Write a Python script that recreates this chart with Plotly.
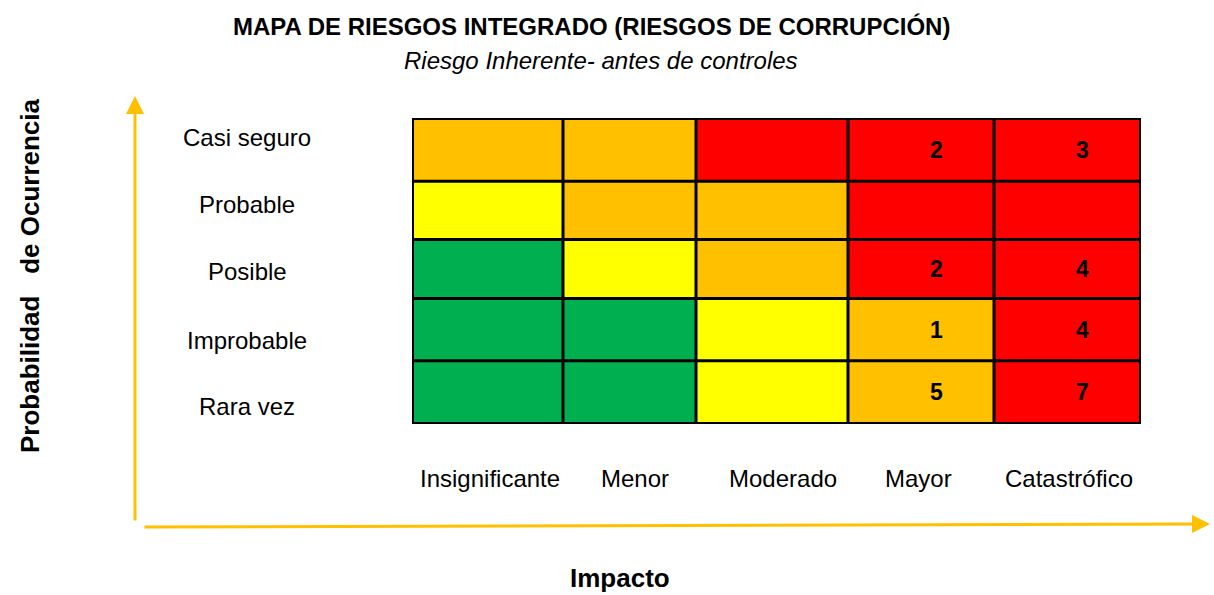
import plotly.graph_objects as go

# ---------------- data ----------------
impact_labels = ["Insignificante", "Menor", "Moderado", "Mayor", "Catastrófico"]
prob_labels = ["Rara vez", "Improbable", "Posible", "Probable", "Casi seguro"]  # bottom -> top

# risk level per cell: 1=bajo(verde) 2=moderado(amarillo) 3=alto(naranja) 4=extremo(rojo)
level_rara_vez    = [1, 1, 2, 3, 4]
level_improbable  = [1, 1, 2, 3, 4]
level_posible     = [1, 2, 3, 4, 4]
level_probable    = [2, 3, 3, 4, 4]
level_casi_seguro = [3, 3, 4, 4, 4]

# number of risks per cell
count_rara_vez    = [None, None, None, 5, 7]
count_improbable  = [None, None, None, 1, 4]
count_posible     = [None, None, None, 2, 4]
count_probable    = [None, None, None, None, None]
count_casi_seguro = [None, None, None, 2, 3]

title_text = "MAPA DE RIESGOS INTEGRADO (RIESGOS DE CORRUPCIÓN)"
subtitle_text = "Riesgo Inherente- antes de controles"
x_title = "Impacto"
y_title = "Probabilidad\u00a0\u00a0\u00a0de Ocurrencia"

# ---------------- layout constants ----------------
W, H = 1214, 595
GX0, GX1, GY0, GY1 = 412, 1141, 118, 424   # grid pixel box
col_widths = [151, 133, 152, 146, 147]
row_heights = [63, 62, 59, 58, 63]          # bottom -> top
col_label_x = [490, 635, 783, 918, 1069]    # pixel centres of the impact labels
row_label_y = [406, 340, 271, 204, 137]     # pixel centres of the probability labels
GREEN, YELLOW, ORANGE, RED = "#00B050", "#FFFF00", "#FFC000", "#FF0000"
ARROW = "#FFC000"
FONT = "Liberation Sans, Arial, sans-serif"

def px(x):
    return (x - GX0) / (GX1 - GX0)

def py(y):
    return (GY1 - y) / (GY1 - GY0)

x_edges = [0]
for w in col_widths:
    x_edges.append(x_edges[-1] + w)
y_edges = [0]
for h in row_heights:
    y_edges.append(y_edges[-1] + h)
x_centers = [(x_edges[i] + x_edges[i + 1]) / 2 for i in range(5)]
y_centers = [(y_edges[i] + y_edges[i + 1]) / 2 for i in range(5)]

z = [level_rara_vez, level_improbable, level_posible, level_probable, level_casi_seguro]
counts = [count_rara_vez, count_improbable, count_posible, count_probable, count_casi_seguro]

colorscale = [[0, GREEN], [0.25, GREEN], [0.25, YELLOW], [0.5, YELLOW],
              [0.5, ORANGE], [0.75, ORANGE], [0.75, RED], [1, RED]]

fig = go.Figure(go.Heatmap(
    z=z, x=x_edges, y=y_edges, zmin=0.5, zmax=4.5,
    colorscale=colorscale, showscale=False, hoverinfo="skip",
))

shapes = []
for i, xe in enumerate(x_edges):
    lw = 4 if i in (0, len(x_edges) - 1) else 3
    shapes.append(dict(type="line", xref="x", yref="y", x0=xe, x1=xe, y0=0, y1=y_edges[-1],
                       line=dict(color="black", width=lw)))
for i, ye in enumerate(y_edges):
    lw = 4 if i in (0, len(y_edges) - 1) else 3
    shapes.append(dict(type="line", xref="x", yref="y", x0=0, x1=x_edges[-1], y0=ye, y1=ye,
                       line=dict(color="black", width=lw)))

def ann(x, y, text, size, xref="paper", yref="paper", **kw):
    d = dict(x=x, y=y, xref=xref, yref=yref, text=text, showarrow=False,
             xanchor="center", yanchor="middle",
             font=dict(size=size, color="black", family=FONT))
    d.update(kw)
    return d

annotations = []
# counts
for r in range(5):
    for c in range(5):
        v = counts[r][c]
        if v is not None:
            annotations.append(ann(x_centers[c], y_centers[r], f"<b>{v}</b>", 23,
                                   xref="x", yref="y", xshift=15))
# column labels
for c, lab in enumerate(impact_labels):
    annotations.append(ann(px(col_label_x[c]), py(478), lab, 24))
# row labels
for r, lab in enumerate(prob_labels):
    annotations.append(ann(px(247), py(row_label_y[r]), lab, 24))
# titles
annotations.append(ann(px(591), py(27), f"<b>{title_text}</b>", 24))
annotations.append(ann(px(601), py(60), f"<i>{subtitle_text}</i>", 24))
annotations.append(ann(px(620), py(578), f"<b>{x_title}</b>", 26))
annotations.append(ann(px(30), py(276), f"<b>{y_title}</b>", 26, textangle=-90))
# axis arrows
annotations.append(dict(x=px(135), y=py(96), xref="paper", yref="paper",
                        ax=0, ay=522 - 96, axref="pixel", ayref="pixel", text="",
                        showarrow=True, arrowhead=2, arrowsize=1.2, arrowwidth=3, arrowcolor=ARROW))
annotations.append(dict(x=px(1210), y=py(524), xref="paper", yref="paper",
                        ax=-(1210 - 143), ay=3, axref="pixel", ayref="pixel", text="",
                        showarrow=True, arrowhead=2, arrowsize=1.2, arrowwidth=3, arrowcolor=ARROW))

fig.update_layout(
    width=W, height=H,
    margin=dict(l=GX0, r=W - GX1, t=GY0, b=H - GY1, pad=0),
    paper_bgcolor="white", plot_bgcolor="white",
    xaxis=dict(range=[0, x_edges[-1]], visible=False, fixedrange=True),
    yaxis=dict(range=[0, y_edges[-1]], visible=False, fixedrange=True),
    shapes=shapes, annotations=annotations, showlegend=False,
)

fig.write_html("out.html", config={"displayModeBar": False},
               post_script="document.body.style.margin='0px';")
